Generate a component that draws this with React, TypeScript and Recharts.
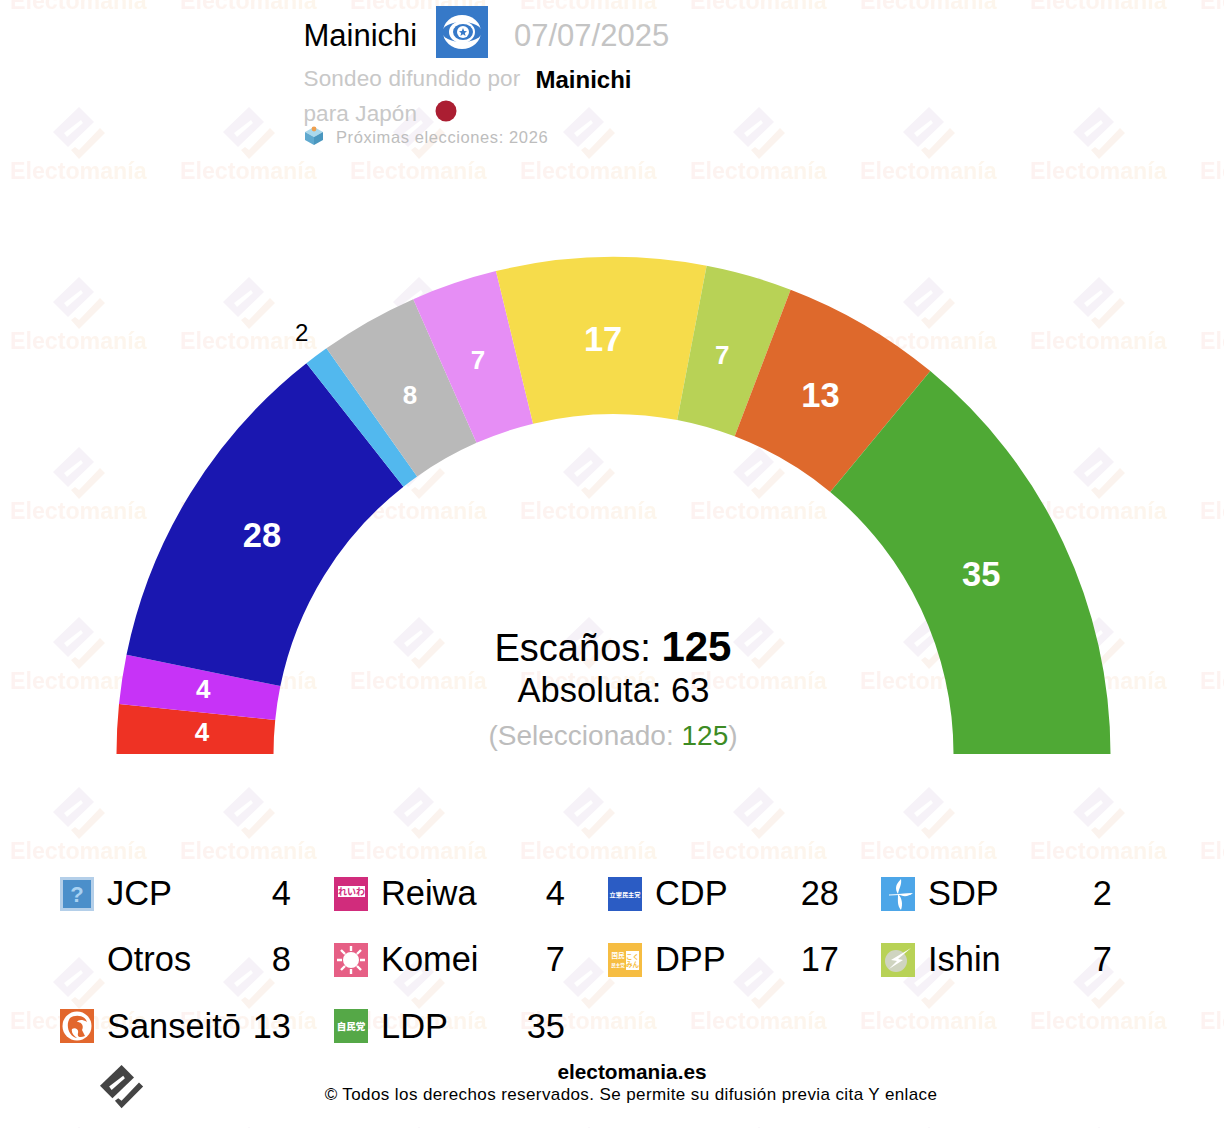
import React from "react";
import { PieChart, Pie, Cell } from "recharts";

const parties = ["JCP", "Reiwa", "CDP", "SDP", "Otros", "Komei", "DPP", "Ishin", "Sanseitō", "LDP"];
const seats = [4, 4, 28, 2, 8, 7, 17, 7, 13, 35];
const colors = ["#ee3224", "#c733f7", "#1a17b0", "#52b8ee", "#b9b9b9", "#e68ef5", "#f6dc4b", "#b8d256", "#de692c", "#4fa935"];
const pieData = parties.map((name, i) => ({ name, value: seats[i] }));

const FONT = '"Liberation Sans", Arial, sans-serif';
const CX = 613.5;
const CY = 754;
const COLS = [60, 334, 608, 881];
const ROWS = [877, 943, 1009];
const TEXT_ROWS = [893, 959, 1026];
const LABEL_DX = [1, -2, 0, 2, 0, -3, 0, -4, -1, -6];
const LABEL_DY = [-1, -3, -2, -1, 0, -3, -2, -2, -2, -4];

const renderLabel = (p: any) => {
  const rad = (p.midAngle * Math.PI) / 180;
  const small = p.value === 2;
  const r = small ? 525 : 413;
  const x = CX + r * Math.cos(rad) + LABEL_DX[p.index];
  const y = CY - r * Math.sin(rad) + LABEL_DY[p.index];
  const size = small ? 24 : p.value >= 10 ? 34.5 : 26;
  return (
    <text x={x} y={y} fill={small ? "#000" : "#fff"} textAnchor="middle" dominantBaseline="central"
      fontFamily={FONT} fontWeight={small ? 400 : 700} fontSize={size}>
      {p.value}
    </text>
  );
};

const Mark = ({ a, b, slot }: { a: string; b: string; slot: string }) => (
  <>
    <polygon points="53,132 79,107 94,122 68,147 " fill={a} />
    <polygon points="64,133 67,137 83,123 81,120" fill={slot} />
    <polygon points="100,128 105,133 79,159 71,150 75,147 79,150" fill={b} />
  </>
);

const Watermark = () => (
  <svg width={1224} height={1128} style={{ position: "absolute", left: 0, top: 0 }}>
    <defs>
      <linearGradient id="wm" x1="0" x2="1" y1="0" y2="0">
        <stop offset="0" stopColor="#fdf2f1" />
        <stop offset="1" stopColor="#fdf6ec" />
      </linearGradient>
      <pattern id="tile" width={170} height={170} patternUnits="userSpaceOnUse">
        <Mark a="#f6f2f8" b="#fbf3ee" slot="#ffffff" />
        <text x={10} y={179} fontFamily={FONT} fontWeight={700} fontSize={23.2} fill="url(#wm)">Electomanía</text>
        <text x={10} y={9} fontFamily={FONT} fontWeight={700} fontSize={23.2} fill="url(#wm)">Electomanía</text>
      </pattern>
    </defs>
    <rect width={1224} height={1128} fill="url(#tile)" />
  </svg>
);

const CJK = '"Noto Sans CJK JP", sans-serif';

const Logo = ({ name }: { name: string }) => {
  const box = (fill: string, children?: React.ReactNode) => (
    <svg width={34} height={34} viewBox="0 0 34 34" style={{ display: "block" }}>
      <rect width={34} height={34} fill={fill} />
      {children}
    </svg>
  );
  if (name === "JCP")
    return box("#b4cfe9", (
      <>
        <rect x={3} y={3} width={28} height={28} fill="#4b8fca" />
        <text x={17} y={25} textAnchor="middle" fontFamily={FONT} fontWeight={700} fontSize={22} fill="#a9d2f2">?</text>
      </>
    ));
  if (name === "Reiwa")
    return box("#d12c7c", (
      <>
        <rect x={4} y={9} width={27} height={11} fill="#fff" />
        <text x={17.5} y={18} textAnchor="middle" fontFamily={CJK} fontWeight={700} fontSize={9} fill="#d12c7c">れいわ</text>
      </>
    ));
  if (name === "CDP")
    return box("#2b5cc4", <text x={17} y={20} textAnchor="middle" fontFamily={CJK} fontWeight={700} fontSize={6.2} fill="#fff">立憲民主党</text>);
  if (name === "SDP")
    return box("#4da6e8", (
      <>
        <path d="M20 2 C14 8 14 12 17 17 C18 11 21 8 20 2 Z" fill="#fff" />
        <path d="M17 17 C17 24 16 28 20 33 C22 27 21 21 17 17 Z" fill="#fff" />
        <path d="M17 17 L32 16 C27 20 22 20 17 17 Z" fill="#fff" />
        <path d="M8 18 L30 17" stroke="#fff" strokeWidth={1} />
      </>
    ));
  if (name === "Komei") {
    return box("#e65f85", (
      <>
        <circle cx={17} cy={17} r={8} fill="#fff" />
        <path d="M17 3V8M17 26V31M3 17H8M26 17H31M7 7L11 11M23 23L27 27M27 7L23 11M11 23L7 27" stroke="#fff" strokeWidth={2.4} />
      </>
    ));
  }
  if (name === "DPP")
    return box("#f6bd42", (
      <>
        <text x={10} y={15} textAnchor="middle" fontFamily={CJK} fontWeight={700} fontSize={6.5} fill="#fff">国民</text>
        <text x={10} y={24} textAnchor="middle" fontFamily={CJK} fontWeight={700} fontSize={4.5} fill="#fff">民主党</text>
        <rect x={18} y={8} width={13} height={19} fill="#fff" />
        <text x={24.5} y={16} textAnchor="middle" fontFamily={CJK} fontWeight={700} fontSize={6.5} fill="#f6bd42">こく</text>
        <text x={24.5} y={24} textAnchor="middle" fontFamily={CJK} fontWeight={700} fontSize={6.5} fill="#f6bd42">みん</text>
      </>
    ));
  if (name === "Ishin")
    return box("#b8d256", (
      <>
        <ellipse cx={15} cy={18} rx={11} ry={11} fill="#cfd4c0" />
        <path d="M30 5 L10 17 L16 18 L8 26 L22 17 L17 16 Z" fill="#fff" />
      </>
    ));
  if (name === "Sanseitō")
    return box("#e2672d", (
      <>
        <circle cx={17} cy={17} r={14.5} fill="#fff" />
        <path d="M10 9 C15 5 25 6 27 13 C22 10 18 11 17 13 C22 13 24 17 22 21 L25 27 C20 29 17 28 18 24 C19 20 15 18 12 20 C11 24 14 27 17 29 C9 28 5 16 10 9 Z" fill="#e2672d" />
      </>
    ));
  if (name === "LDP")
    return box("#55a847", <text x={17} y={20.5} textAnchor="middle" fontFamily={CJK} fontWeight={900} fontSize={9.5} fill="#fff">自民党</text>);
  return null;
};

const T = ({ x, y, size, color = "#000", bold, children, right, center, spacing }: any) => (
  <div
    style={{
      position: "absolute",
      left: center !== undefined ? center - 500 : right !== undefined ? undefined : x,
      right: right !== undefined ? 1224 - right : undefined,
      width: center !== undefined ? 1000 : undefined,
      textAlign: center !== undefined ? "center" : undefined,
      top: y - size,
      height: size * 2,
      lineHeight: `${size * 2}px`,
      fontSize: size,
      fontFamily: FONT,
      fontWeight: bold ? 700 : 400,
      letterSpacing: spacing,
      color,
      whiteSpace: "nowrap",
    }}
  >
    {children}
  </div>
);

const MainichiLogo = () => (
  <svg width={52} height={52} viewBox="0 0 52 52" style={{ position: "absolute", left: 436, top: 6 }}>
    <rect width={52} height={52} fill="#3679c8" />
    <ellipse cx={26} cy={26} rx={19} ry={17} fill="#fff" />
    <ellipse cx={26} cy={26} rx={20} ry={10} fill="#3679c8" />
    <ellipse cx={26} cy={26} rx={13} ry={11} fill="#fff" />
    <ellipse cx={27} cy={26} rx={10} ry={8} fill="#3679c8" />
    <circle cx={27} cy={26} r={6} fill="#fff" />
    <polygon points="27,22 28.2,25 31,25.2 28.8,27 29.6,30 27,28.3 24.4,30 25.2,27 23,25.2 25.8,25" fill="#3679c8" />
  </svg>
);

const Overlay = () => (
  <svg width={1224} height={1128} style={{ position: "absolute", left: 0, top: 0, pointerEvents: "none" }}>
    <g transform="translate(56,976.2) scale(0.83)">
      <Mark a="#444444" b="#444444" slot="#ffffff" />
    </g>
    <g>
      <polygon points="314,127 323,132 314,137 305,132" fill="#a9d8ec" />
      <polygon points="305,132 314,137 314,145 305,140" fill="#5fa9cf" />
      <polygon points="323,132 314,137 314,145 323,140" fill="#4a97bf" />
      <circle cx={314} cy={129} r={2.4} fill="#ef9f4f" />
    </g>
    <circle cx={446} cy={111} r={10.5} fill="#ab1e32" />
  </svg>
);

export default function App() {
  return (
    <div style={{ position: "absolute", left: 0, top: 0, width: 1224, height: 1128, background: "#fff", overflow: "hidden" }}>
      <Watermark />
      <div style={{ position: "absolute", left: 0, top: 0 }}>
        <PieChart width={1224} height={1128} margin={{ top: 0, right: 0, bottom: 0, left: 0 }} style={{ background: "transparent" }}>
          <Pie
            data={pieData}
            dataKey="value"
            nameKey="name"
            cx={CX}
            cy={CY}
            innerRadius={340}
            outerRadius={497}
            startAngle={180}
            endAngle={0}
            paddingAngle={0}
            stroke="none"
            isAnimationActive={false}
            label={renderLabel}
            labelLine={false}
          >
            {pieData.map((d, i) => (
              <Cell key={d.name} fill={colors[i]} stroke="none" />
            ))}
          </Pie>
        </PieChart>
      </div>

      <T x={303.5} y={36} size={31}>Mainichi</T>
      <MainichiLogo />
      <T x={514} y={36} size={31} color="#c4c4c4">07/07/2025</T>
      <T x={303.5} y={78} size={22.5} color="#c8c8c8" spacing={0.15}>Sondeo difundido por</T>
      <T x={535.5} y={80} size={24} bold>Mainichi</T>
      <T x={303.5} y={113} size={22.5} color="#c8c8c8" spacing={0.1}>para Japón</T>
      <T x={336} y={137} size={16.5} color="#bdbdbd" spacing={0.6}>Próximas elecciones: 2026</T>

      <T center={613} y={646.5} size={38}>
        Escaños: <span style={{ fontWeight: 700, fontSize: 42 }}>125</span>
      </T>
      <T center={613.5} y={690.5} size={34.5}>Absoluta: 63</T>
      <T center={613} y={736} size={28} color="#bdbdbd">
        (Seleccionado: <span style={{ color: "#3d8b24" }}>125</span>)
      </T>

      {parties.map((name, i) => {
        const cx = COLS[i % 4];
        const row = Math.floor(i / 4);
        return (
          <React.Fragment key={name}>
            <div style={{ position: "absolute", left: cx, top: ROWS[row] }}>
              <Logo name={name} />
            </div>
            <T x={cx + 47} y={TEXT_ROWS[row]} size={34.4}>{name}</T>
            <T right={cx + 231} y={TEXT_ROWS[row]} size={34.4}>{seats[i]}</T>
          </React.Fragment>
        );
      })}

      <T center={632} y={1071.5} size={20.8} bold>electomania.es</T>
      <T center={631} y={1094.5} size={17} spacing={0.4}>© Todos los derechos reservados. Se permite su difusión previa cita Y enlace</T>
      <Overlay />
    </div>
  );
}
